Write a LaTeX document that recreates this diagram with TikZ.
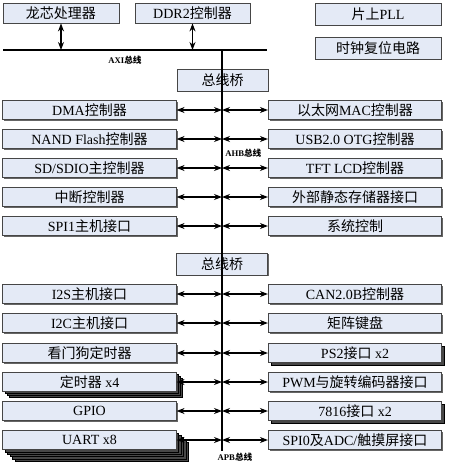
\documentclass[tikz,border=0pt]{standalone}
\usepackage{fontspec}
\setmainfont{Liberation Serif}
\newfontfamily\cjk{Noto Sans CJK SC}
\newcommand\zw[1]{{\cjk #1}}
\usetikzlibrary{arrows.meta}
\usetikzlibrary{shadows}

\definecolor{boxfill}{RGB}{228,234,246}
\definecolor{boxline}{RGB}{70,70,70}

\begin{document}
\begin{tikzpicture}[x=0.75pt,y=-0.75pt,
blk/.style={draw=boxline,fill=boxfill,line width=0.6pt,inner sep=0pt,
  minimum height=14.25pt,font=\fontsize{10.5}{12}\selectfont},
shd/.style={general shadow={fill=black!60,draw=none,shadow xshift=1pt,shadow yshift=-1pt}},
layer/.style={general shadow={fill=black!72,draw=black,line width=0.4pt,
  shadow xshift=#1,shadow yshift=-#1}},
wide/.style={minimum width=130pt},
dev/.style={blk,wide,shd},
hdr/.style={blk,shd,minimum height=15pt},
brg/.style={blk,shd,minimum width=68.25pt,minimum height=16.5pt},
dbl/.style={{Stealth[length=6pt,width=4.5pt]}-{Stealth[length=6pt,width=4.5pt]},line width=0.9pt},
lbl/.style={font=\bfseries\fontsize{6.5}{7}\selectfont,inner sep=0pt}]
\useasboundingbox (0,0) rectangle (457,475);

% top row
\node[hdr,minimum width=87pt] (cpu) at (61,13) {\zw{龙芯处理器}};
\node[hdr,minimum width=86.25pt] (ddr) at (192.5,13) {DDR2\zw{控制器}};
\node[hdr,minimum width=94.5pt,minimum height=16.5pt] (pll) at (378,14) {\zw{片上}PLL};
\node[hdr,minimum width=94.5pt,minimum height=16.5pt] (clk) at (378,48) {\zw{时钟复位电路}};

\coordinate (axiL) at (3,50);
\coordinate (axiR) at (267,50);
\coordinate (busT) at (222,50);
\coordinate (busB) at (222,451);

% bridges
\node[brg] (ahbbr) at (222.5,80) {\zw{总线桥}};
\node[brg] (apbbr) at (222,264) {\zw{总线桥}};

% AHB
\node[dev] (dma)  at (89.5,110) {DMA\zw{控制器}};
\node[dev] (nand) at (89.5,139) {NAND Flash\zw{控制器}};
\node[dev] (sd)   at (89.5,168) {SD/SDIO\zw{主控制器}};
\node[dev] (intc) at (89.5,197) {\zw{中断控制器}};
\node[dev] (spi1) at (89.5,226) {SPI1\zw{主机接口}};
\node[dev] (mac)  at (355,110) {\zw{以太网}MAC\zw{控制器}};
\node[dev] (usb)  at (355,139) {USB2.0 OTG\zw{控制器}};
\node[dev] (lcd)  at (355,168) {TFT LCD\zw{控制器}};
\node[dev] (sram) at (355,197) {\zw{外部静态存储器接口}};
\node[dev] (sysc) at (355,226) {\zw{系统控制}};

% APB
\node[dev] (i2s)  at (89.5,294) {I2S\zw{主机接口}};
\node[dev] (i2c)  at (89.5,323) {I2C\zw{主机接口}};
\node[dev] (wdt)  at (89.5,353) {\zw{看门狗定时器}};
\node[blk,wide,layer=4.5pt,layer=3pt,layer=1.5pt] (tmr) at (89.5,382) {\zw{定时器} x4};
\node[dev] (gpio) at (89.5,411) {GPIO};
\node[blk,wide,layer=9pt,layer=7.2pt,layer=5.4pt,layer=3.6pt,layer=1.8pt] (uart) at (89.5,440) {UART x8};
\node[dev] (can)  at (355,294) {CAN2.0B\zw{控制器}};
\node[dev] (kbd)  at (355,323) {\zw{矩阵键盘}};
\node[blk,wide,layer=2pt] (ps2) at (355,353) {PS2\zw{接口} x2};
\node[dev] (pwm)  at (355,382) {PWM\zw{与旋转编码器接口}};
\node[blk,wide,layer=2pt] (iso) at (355,411) {7816\zw{接口} x2};
\node[dev] (spi0) at (355,440) {SPI0\zw{及}ADC/\zw{触摸屏接口}};

% buses
\draw[line width=2.2pt] (axiL) -- (axiR);
\draw[line width=1.6pt] (busT) -- (busB);
\draw[dbl] (cpu.south) -- (cpu.south |- axiL);
\draw[dbl] (ddr.south) -- (ddr.south |- axiL);
\foreach \n in {dma,nand,sd,intc,spi1,i2s,i2c,wdt,tmr,gpio,uart}
  \draw[dbl] (\n.east) -- (\n.east -| busT);
\foreach \n in {mac,usb,lcd,sram,sysc,can,kbd,ps2,pwm,iso,spi0}
  \draw[dbl] (\n.west -| busT) -- (\n.west);

\node[lbl] (axil) at (125,60) {AXI\zw{总线}};
\node[lbl,anchor=west] (ahbl) at (225,153) {AHB\zw{总线}};
\node[lbl] (apbl) at (235,457) {APB\zw{总线}};
\end{tikzpicture}
\end{document}
